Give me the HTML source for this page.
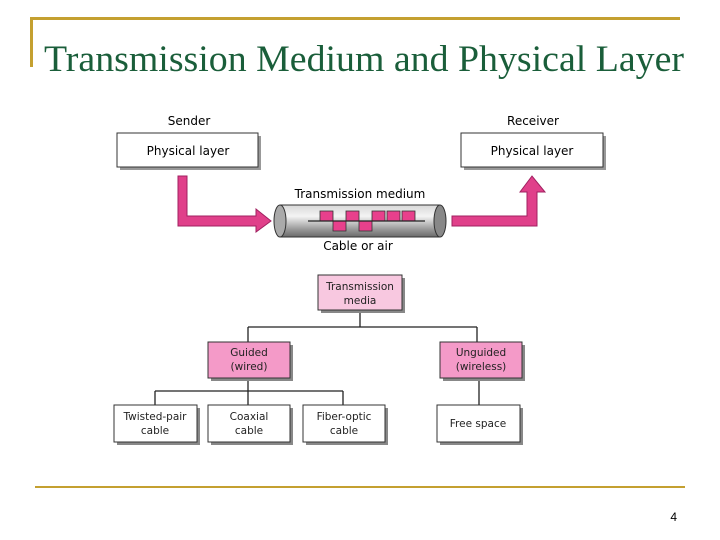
<!DOCTYPE html>
<html><head><meta charset="utf-8"><style>html,body{margin:0;padding:0;background:#fff}svg{display:block}</style></head>
<body>
<svg width="720" height="540" viewBox="0 0 720 540" xmlns="http://www.w3.org/2000/svg">
<defs>
<linearGradient id="cyl" x1="0" y1="0" x2="0" y2="1">
<stop offset="0" stop-color="#d8d8d8"/><stop offset="0.35" stop-color="#f4f4f4"/><stop offset="0.75" stop-color="#9a9a9a"/><stop offset="1" stop-color="#6a6a6a"/>
</linearGradient>
</defs>
<rect x="30" y="17" width="650" height="3" fill="#c4a030"/>
<rect x="30" y="17" width="3" height="50" fill="#c4a030"/>
<text x="44" y="71" font-family="Liberation Serif, serif" font-size="37" fill="#1a5e3a" textLength="640" lengthAdjust="spacingAndGlyphs">Transmission Medium and Physical Layer</text>
<rect x="35" y="486" width="650" height="2" fill="#c4a030"/>
<text x="677" y="521" font-family="Liberation Sans, sans-serif" font-size="12" text-anchor="end">4</text>

<g font-family="DejaVu Sans, sans-serif" font-size="12" fill="#000" text-anchor="middle">
<text x="189" y="125">Sender</text>
<text x="533" y="125">Receiver</text>
<rect x="120" y="136" width="141" height="34" fill="#999"/>
<rect x="117" y="133" width="141" height="34" fill="#fff" stroke="#333"/>
<text x="188" y="155">Physical layer</text>
<rect x="464" y="136" width="142" height="34" fill="#999"/>
<rect x="461" y="133" width="142" height="34" fill="#fff" stroke="#333"/>
<text x="532" y="155">Physical layer</text>
<text x="360" y="198">Transmission medium</text>
<text x="358" y="250">Cable or air</text>
</g>
<path d="M178,176 H187 V216 H256 V209 L271,221 L256,232 V226 H178 Z" fill="#e0408a" stroke="#a02060" stroke-width="1"/>
<path d="M452,216 H527 V192 H520 L532,176 L545,192 H537 V226 H452 Z" fill="#e0408a" stroke="#a02060" stroke-width="1"/>
<rect x="280" y="205" width="160" height="32" fill="url(#cyl)" stroke="#333"/>
<ellipse cx="440" cy="221" rx="6" ry="16" fill="#888" stroke="#333"/>
<ellipse cx="280" cy="221" rx="6" ry="16" fill="#aaa" stroke="#333"/>
<g fill="#e8408c" stroke="#333" stroke-width="0.8">
<rect x="320" y="211" width="13" height="10"/>
<rect x="333" y="221" width="13" height="10"/>
<rect x="346" y="211" width="13" height="10"/>
<rect x="359" y="221" width="13" height="10"/>
<rect x="372" y="211" width="13" height="10"/>
<rect x="387" y="211" width="13" height="10"/>
<rect x="402" y="211" width="13" height="10"/>
</g>
<line x1="308" y1="221" x2="425" y2="221" stroke="#222" stroke-width="1.2"/>

<g stroke="#222" stroke-width="1.3" fill="none">
<path d="M360,310 V327 M248,327 H477 M248,327 V342 M477,327 V342"/>
<path d="M248,378 V391 M155,391 H343 M155,391 V405 M248,391 V405 M343,391 V405 M479,378 V405"/>
</g>
<g font-family="DejaVu Sans, sans-serif" font-size="10.5" text-anchor="middle" fill="#222">
<rect x="321" y="278" width="84" height="35" fill="#888"/>
<rect x="318" y="275" width="84" height="35" fill="#f8c8e0" stroke="#333"/>
<text x="360" y="290">Transmission</text><text x="360" y="304">media</text>
<rect x="211" y="345" width="82" height="36" fill="#888"/>
<rect x="208" y="342" width="82" height="36" fill="#f49ac8" stroke="#333"/>
<text x="249" y="356">Guided</text><text x="249" y="370">(wired)</text>
<rect x="443" y="345" width="82" height="36" fill="#888"/>
<rect x="440" y="342" width="82" height="36" fill="#f49ac8" stroke="#333"/>
<text x="481" y="356">Unguided</text><text x="481" y="370">(wireless)</text>
<rect x="117" y="408" width="83" height="37" fill="#888"/>
<rect x="114" y="405" width="83" height="37" fill="#fff" stroke="#333"/>
<text x="155" y="420">Twisted-pair</text><text x="155" y="434">cable</text>
<rect x="211" y="408" width="82" height="37" fill="#888"/>
<rect x="208" y="405" width="82" height="37" fill="#fff" stroke="#333"/>
<text x="249" y="420">Coaxial</text><text x="249" y="434">cable</text>
<rect x="306" y="408" width="82" height="37" fill="#888"/>
<rect x="303" y="405" width="82" height="37" fill="#fff" stroke="#333"/>
<text x="344" y="420">Fiber-optic</text><text x="344" y="434">cable</text>
<rect x="440" y="408" width="83" height="37" fill="#888"/>
<rect x="437" y="405" width="83" height="37" fill="#fff" stroke="#333"/>
<text x="478" y="427">Free space</text>
</g>
</svg>
</body></html>
